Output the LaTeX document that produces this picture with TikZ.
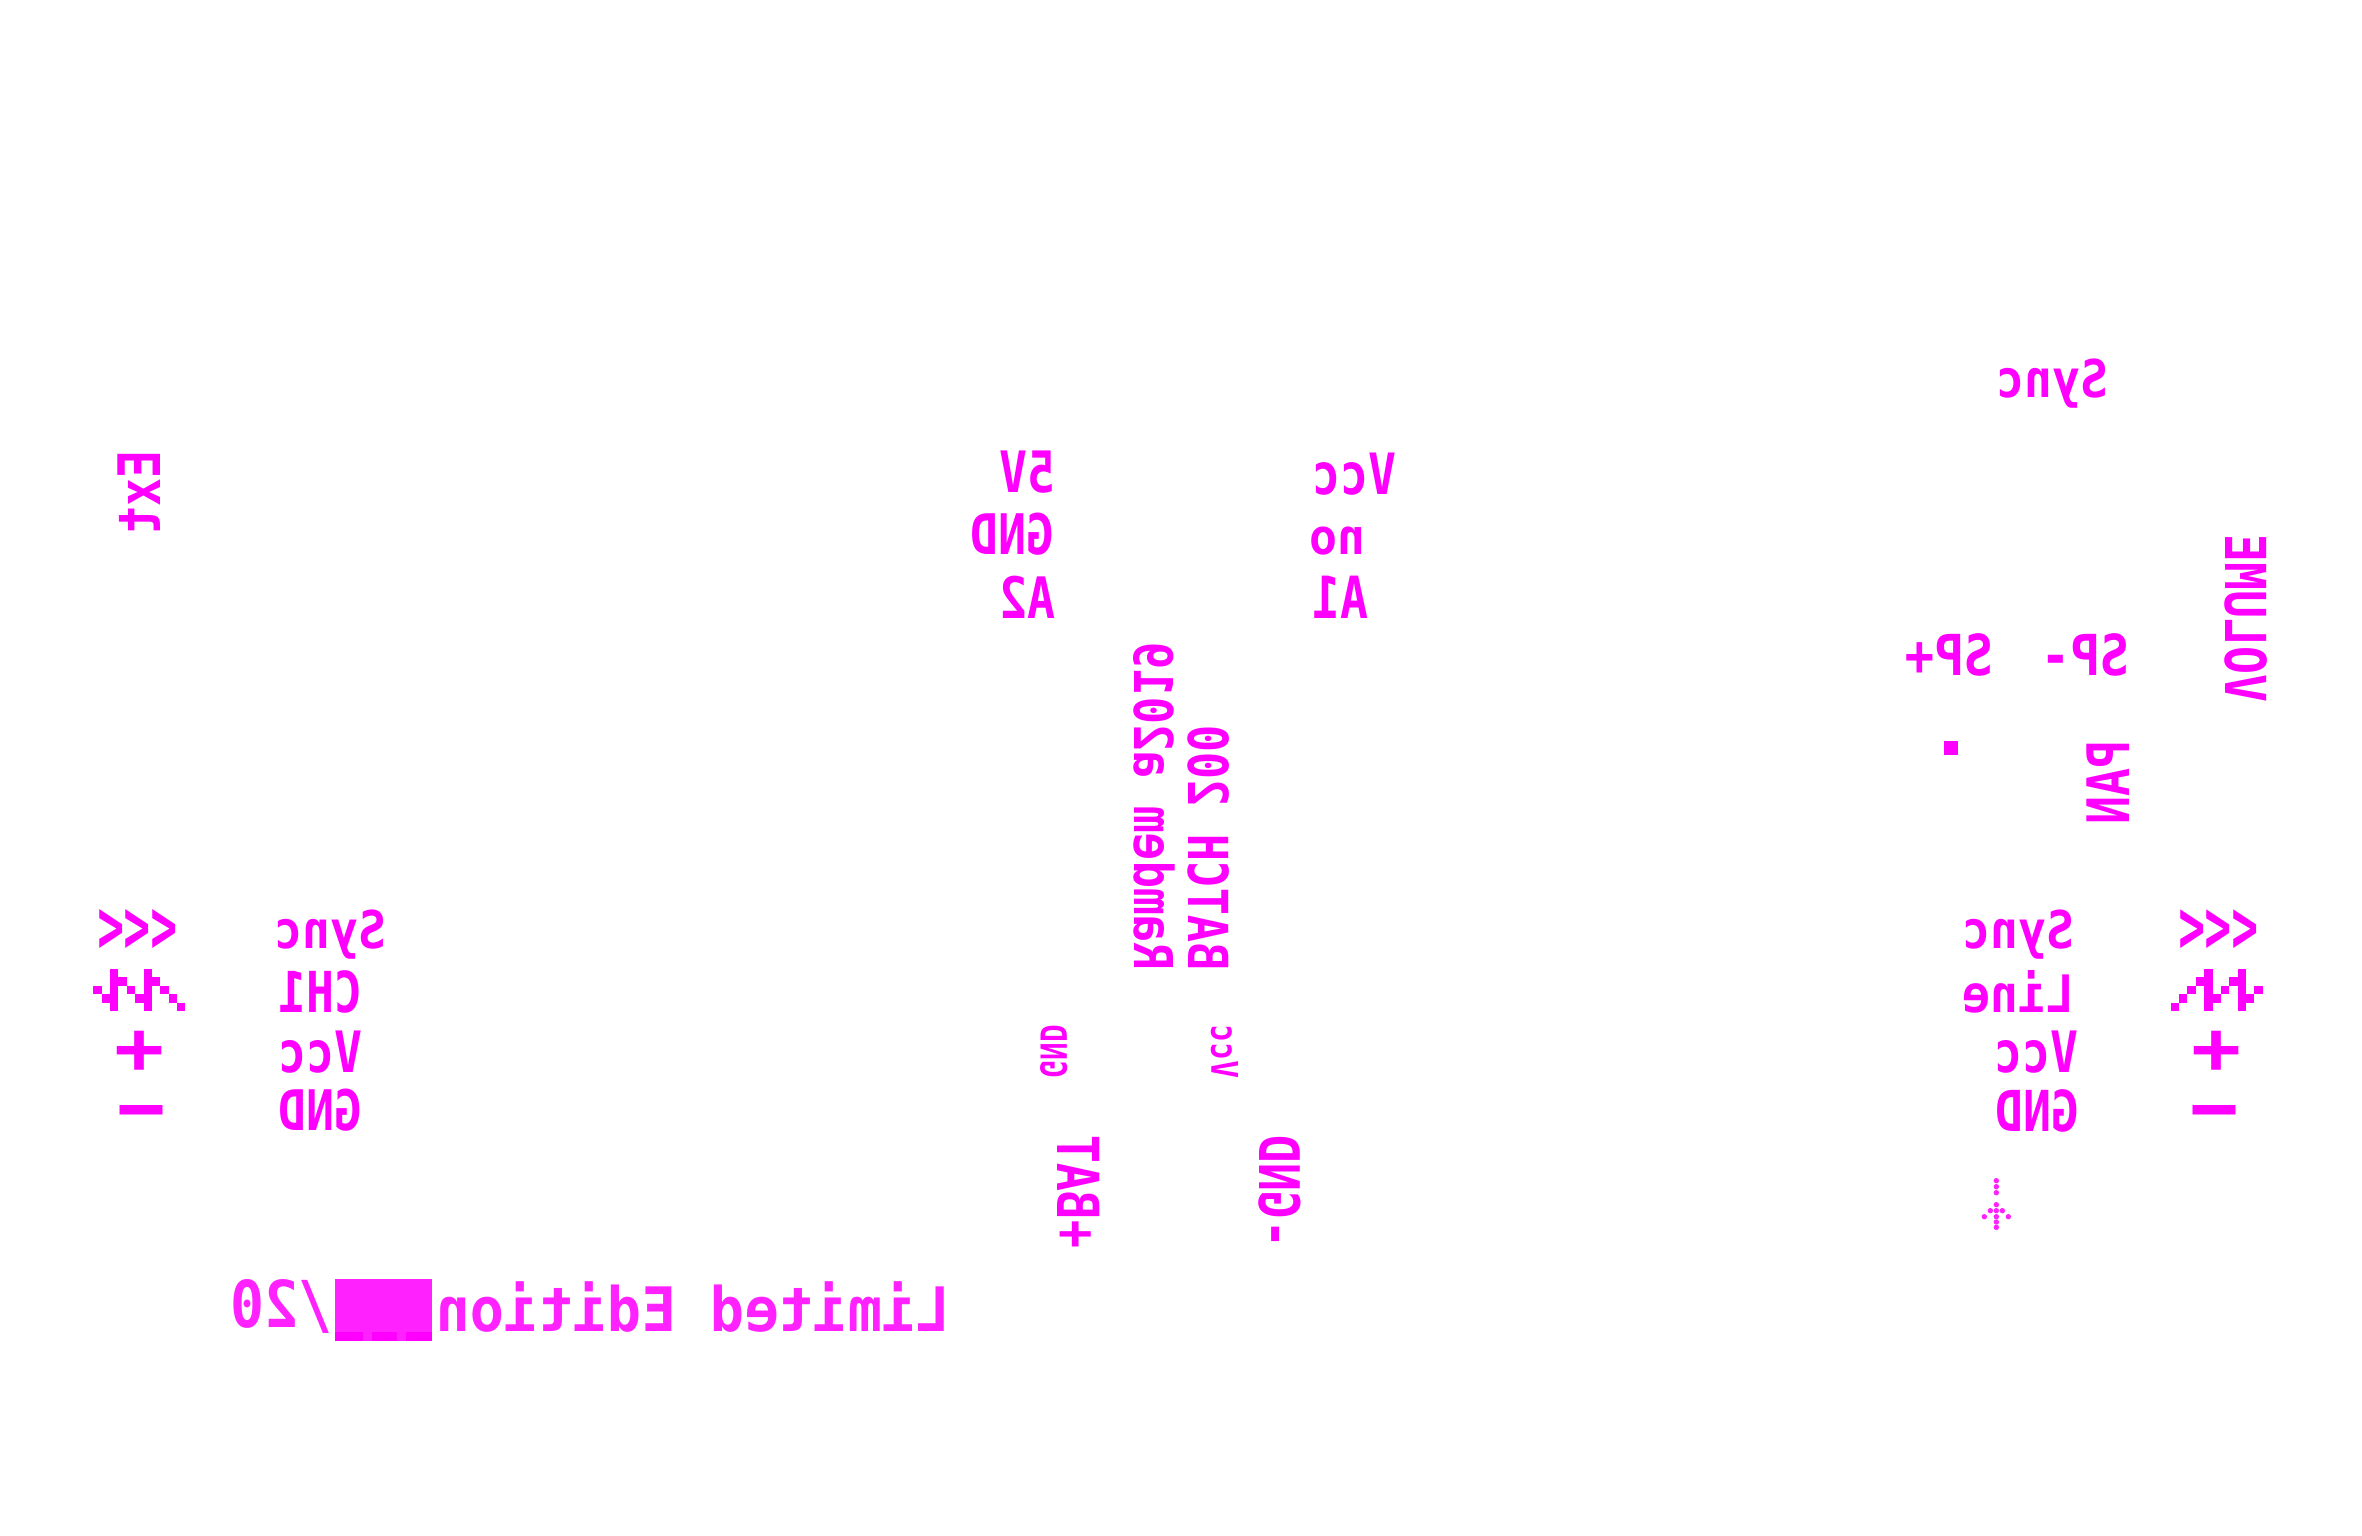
\documentclass[tikz,border=0pt]{standalone}
\usepackage{fontspec}
\usepackage{graphicx}
\newfontfamily\pixfont{DejaVu Sans Mono}
\definecolor{silk}{HTML}{FF00FF}
\definecolor{silklight}{HTML}{FF22FF}
% w, h in px; text mirrored and stretched to the silk-screen cell
\newcommand{\silk}[3]{\resizebox*{#1pt}{#2pt}{\reflectbox{\pixfont\bfseries\fontsize{40}{44}\selectfont #3}}}
\tikzset{
  silktext/.style={inner sep=0pt,outer sep=0pt,text=silk,anchor=center},
  silkthin/.style={silktext,text=silklight},
  upread/.style={rotate=-90},
  downread/.style={rotate=90},
}
\begin{document}
\begin{tikzpicture}[x=1pt,y=-1pt]
\useasboundingbox (0,0) rectangle (2362,1535);
% left connector
\node[silktext] (lArrows) at (137.5,931) {\silk{80}{43}{<<<}};
\node[silktext] (lPlus) at (139.3,1052.5) {\silk{50}{42.3}{+}};
\node[silktext] (lMinus) at (141,1117) {\silk{84}{24}{-}};
\node[silktext] (lSync) at (330.2,935) {\silk{112}{49.4}{Sync}};
\node[silktext] (lCH) at (320,992) {\silk{84}{42.7}{CH1}};
\node[silktext] (lVcc) at (320,1052) {\silk{84}{42.4}{Vcc}};
\node[silktext] (lGND) at (320,1110.5) {\silk{84}{42.3}{GND}};
% Ext
\node[silktext,downread] (ext) at (139.6,492.2) {\silk{84}{42.7}{Ext}};
% pot header
\node[silktext] (hFive) at (1027,472.5) {\silk{56}{42.4}{5V}};
\node[silktext] (hGND) at (1012.8,534) {\silk{84}{42.3}{GND}};
\node[silktext] (hAtwo) at (1027,597) {\silk{56}{42.4}{A2}};
\node[silktext] (hVcc) at (1354.3,474.5) {\silk{84}{42.3}{Vcc}};
\node[silktext] (hNo) at (1337.8,541) {\silk{56}{28.3}{no}};
\node[silktext] (hAone) at (1340.2,597) {\silk{56}{42.4}{A1}};
% centre column
\node[silktext,upread] (rand) at (1154.8,806.2) {\silk{328}{41.7}{Ramdem a2019}};
\node[silktext,upread] (batch) at (1208.1,847.5) {\silk{245}{41.7}{BATCH 200}};
\node[silktext,upread] (cGND) at (1053.7,1051.7) {\silk{53}{27.3}{GND}};
\node[silktext,upread] (cVcc) at (1224.4,1051.7) {\silk{53}{27.3}{Vcc}};
\node[silktext,upread] (bat) at (1078.2,1191.7) {\silk{113}{42.3}{+BAT}};
\node[silktext,upread] (gnd) at (1280,1191.7) {\silk{113}{42.3}{-GND}};
% top right
\node[silktext] (rSyncTop) at (2052.3,384) {\silk{112}{49.4}{Sync}};
\node[silktext] (spPlus) at (1949.5,654.5) {\silk{88}{42.7}{SP+}};
\node[silktext] (spMinus) at (2085.5,654.5) {\silk{88}{42.7}{SP-}};
\node[silktext,upread] (volume) at (2246.4,618.7) {\silk{168}{42.7}{VOLUME}};
\node[silktext,downread] (pan) at (2108.4,782.5) {\silk{84}{42.7}{PAN}};
\fill[silk] (1944.3,740.7) rectangle (1958.3,754.7);
% right connector
\node[silktext] (rSync) at (2018.2,935) {\silk{112}{49.4}{Sync}};
\node[silktext] (rLine) at (2018,992) {\silk{112}{42.7}{Line}};
\node[silktext] (rVcc) at (2036,1052) {\silk{84}{42.4}{Vcc}};
\node[silktext] (rGND) at (2037,1110.5) {\silk{84}{42.7}{GND}};
\node[silktext] (rArrows) at (2218.5,931) {\silk{80}{42.7}{<<<}};
\node[silktext] (rPlus) at (2216.2,1052.5) {\silk{50}{42.3}{+}};
\node[silktext] (rMinus) at (2214.8,1117) {\silk{84}{24}{-}};
% wave icons
\foreach \c/\r in {2/0,6/0,2/1,3/1,6/1,7/1,0/2,2/2,4/2,6/2,8/2,1/3,2/3,5/3,6/3,9/3,2/4,6/4,10/4}{
  \fill[silk] ({93.3+8.37*\c},{969+8.47*\r}) rectangle ++(8.37,8.47);
  \fill[silk] ({2262.7-8.37*(\c+1)},{969+8.47*\r}) rectangle ++(8.37,8.47);
}
% dotted arrow
\foreach \dx/\dy in {169/872,169/890,169/908,169/944,151/962,169/962,187/962,133/980,169/980,205/980,169/996,169/1012}{
  \fill[silklight] ({1940+\dx/3},{890+\dy/3}) circle (2.7);
}
% edition line
\node[silkthin] (edition) at (693.3,1306.8) {\silk{515}{50.7}{Limited Edition}};
\node[silkthin] (num) at (281.5,1306.5) {\silk{102}{54}{/20}};
\fill[silklight] (334.5,1279) rectangle (432,1340.7);
\fill[silk] (334.5,1331.7) rectangle (363,1340.7);
\fill[silk] (371.5,1331.7) rectangle (397,1340.7);
\fill[silk] (405.5,1331.7) rectangle (432,1340.7);
\end{tikzpicture}
\end{document}
